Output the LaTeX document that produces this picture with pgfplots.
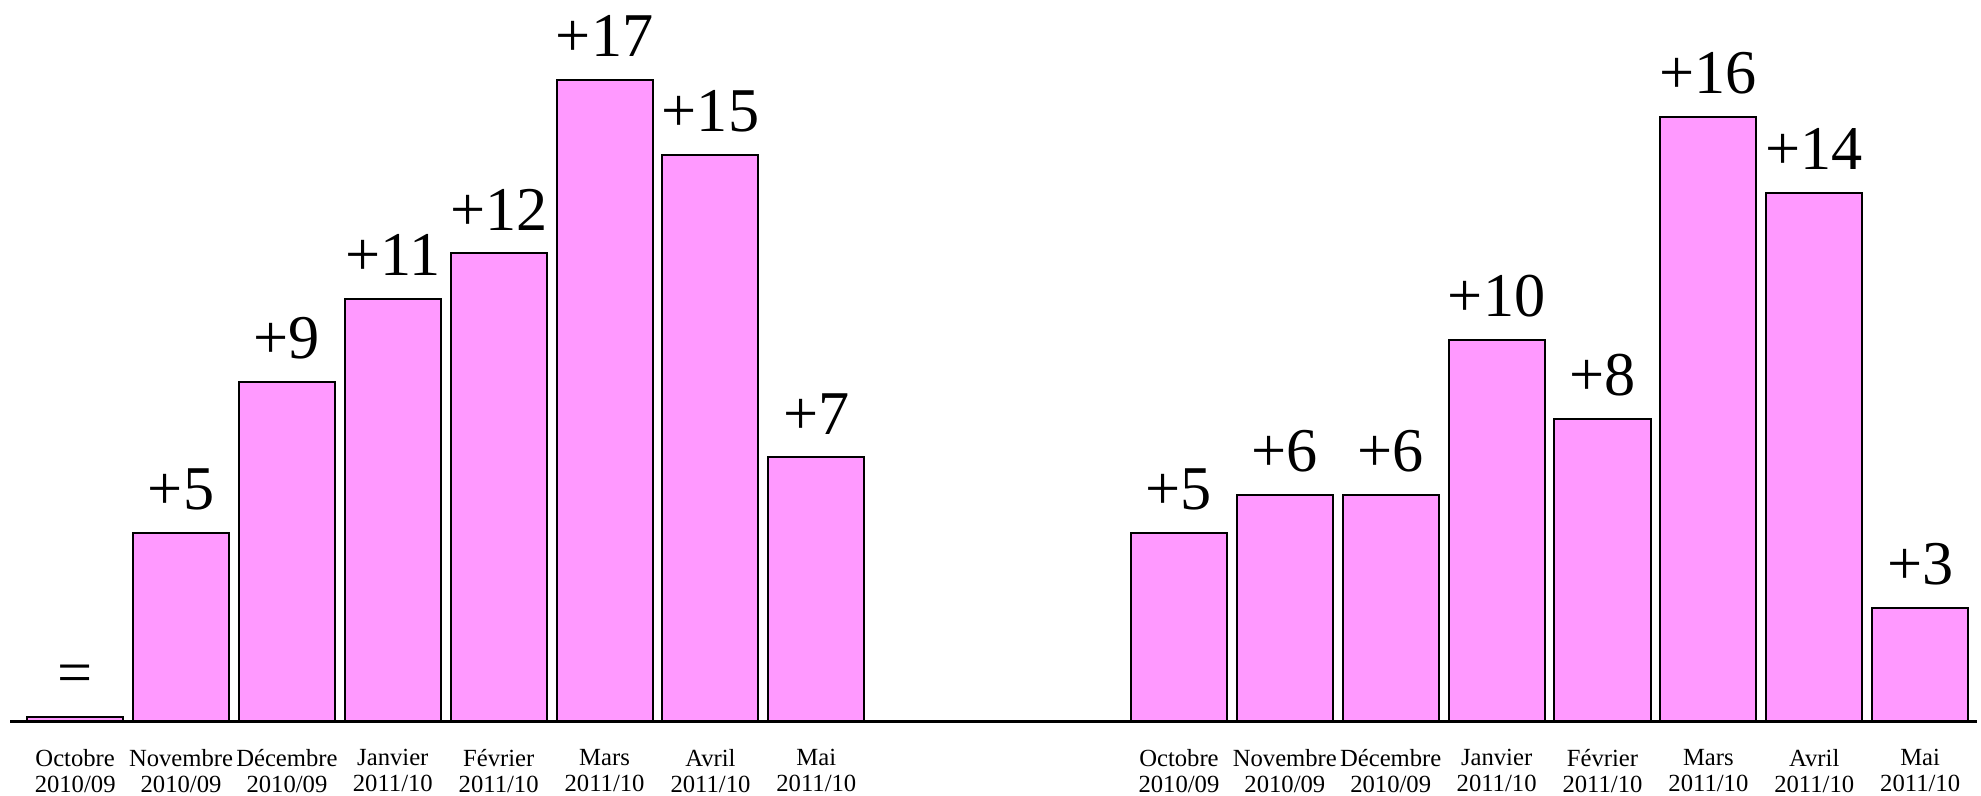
\documentclass[border=0pt]{standalone}
\usepackage{fontspec}
\setmainfont{Liberation Serif}
\usepackage{pgfplots}
\pgfplotsset{compat=1.18}
\definecolor{barpink}{RGB}{255,153,255}

\begin{document}
\begin{tikzpicture}
\begin{axis}[
  scale only axis,
  width=792.5bp, height=288.6bp,
  xmin=-0.71, xmax=18.0,
  ymin=0, ymax=19.11,
  clip=false,
  axis x line*=bottom,
  axis y line=none,
  x axis line style={draw=none},
  xtick style={draw=none},
  xtick={0,1,2,3,4,5,6,7,10.425,11.425,12.425,13.425,14.425,15.425,16.425,17.425},
  xticklabels={Octobre\\2010/09, Novembre\\2010/09, Décembre\\2010/09, Janvier\\2011/10,
               Février\\2011/10, Mars\\2011/10, Avril\\2011/10, Mai\\2011/10,
               Octobre\\2010/09, Novembre\\2010/09, Décembre\\2010/09, Janvier\\2011/10,
               Février\\2011/10, Mars\\2011/10, Avril\\2011/10, Mai\\2011/10},
  xticklabel style={align=center, font=\fontsize{9.9}{10.4}\selectfont, inner sep=0pt, yshift=-6.8bp},
  ybar, bar width=0.907, bar shift=0pt,
  nodes near coords,
  point meta=explicit symbolic,
  every node near coord/.append style={font=\fontsize{25}{30}\selectfont, inner sep=0pt, yshift=8.8bp},
]
% saison 2010/11
\addplot[fill=barpink, draw=black, line width=0.8bp] coordinates {
  (0,0.12) [{=}] (1,5) [{+5}] (2,9) [{+9}] (3,11.2) [{+11}]
  (4,12.4) [{+12}] (5,17) [{+17}] (6,15) [{+15}] (7,7) [{+7}]
};
% saison 2011/12
\addplot[fill=barpink, draw=black, line width=0.8bp] coordinates {
  (10.425,5) [{+5}] (11.425,6) [{+6}] (12.425,6) [{+6}] (13.425,10.1) [{+10}]
  (14.425,8) [{+8}] (15.425,16) [{+16}] (16.425,14) [{+14}] (17.425,3) [{+3}]
};
\draw[line width=1.1bp] (axis cs:-0.615,0) -- (axis cs:17.965,0);
\coordinate (bl) at (axis cs:-0.71,-1.96);
\coordinate (tr) at (axis cs:18.0,19.11);
\end{axis}
\pgfresetboundingbox
\path[use as bounding box] (bl) rectangle (tr);
\end{tikzpicture}
\end{document}
